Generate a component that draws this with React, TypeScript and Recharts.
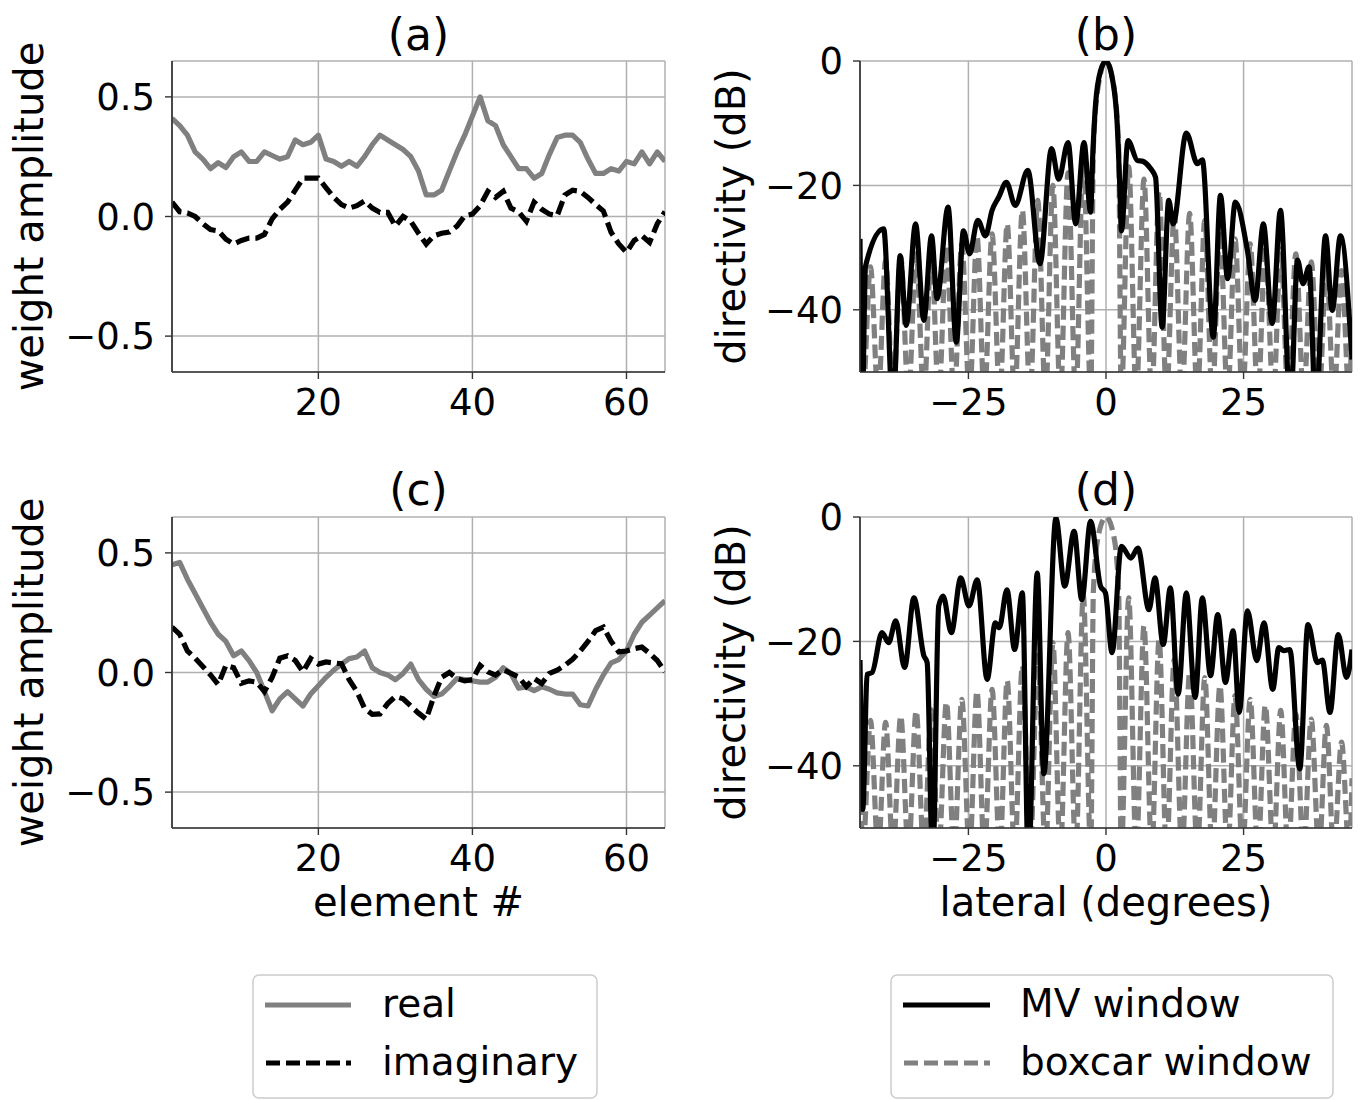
import React from 'react';
import { LineChart, Line, XAxis, YAxis, CartesianGrid } from 'recharts';

const FONT = '"DejaVu Sans", Verdana, sans-serif';
const INK = '#000';
const GRAY = '#808080';
const GRID = '#b0b0b0';
const SPINE = '#333333';

// array element number (x of panels a and c)
const ELEMENTS = Array.from({ length: 65 }, (_, i) => i + 1);

const REAL_A = [
  0.41, 0.38, 0.34, 0.27, 0.24, 0.2, 0.225, 0.205, 0.25, 0.27,
  0.23, 0.23, 0.27, 0.255, 0.24, 0.25, 0.32, 0.3, 0.31, 0.34,
  0.24, 0.23, 0.21, 0.23, 0.21, 0.25, 0.3, 0.34, 0.32, 0.3,
  0.28, 0.25, 0.19, 0.09, 0.09, 0.11, 0.19, 0.27, 0.34, 0.42,
  0.5, 0.4, 0.38, 0.3, 0.25, 0.2, 0.2, 0.16, 0.18, 0.26,
  0.33, 0.34, 0.34, 0.31, 0.24, 0.18, 0.18, 0.2, 0.19, 0.23,
  0.22, 0.27, 0.22, 0.27, 0.23,
];
const IMAG_A = [
  0.06, 0.02, 0.015, 0.0, -0.03, -0.055, -0.06, -0.095, -0.115, -0.1,
  -0.09, -0.09, -0.075, -0.01, 0.03, 0.06, 0.11, 0.16, 0.16, 0.16,
  0.12, 0.08, 0.05, 0.035, 0.045, 0.065, 0.035, 0.017, 0.017, -0.04,
  0.0, -0.02, -0.07, -0.115, -0.08, -0.07, -0.065, -0.04, 0.003, 0.01,
  0.045, 0.105, 0.08, 0.105, 0.035, 0.02, -0.02, 0.06, 0.03, 0.01,
  0.003, 0.09, 0.11, 0.105, 0.08, 0.05, 0.023, -0.066, -0.115, -0.15,
  -0.1, -0.08, -0.108, -0.03, 0.02,
];
const REAL_C = [
  0.45, 0.46, 0.39, 0.33, 0.27, 0.21, 0.16, 0.13, 0.07, 0.09,
  0.05, 0.0, -0.08, -0.16, -0.11, -0.08, -0.11, -0.14, -0.09, -0.055,
  -0.02, 0.01, 0.035, 0.058, 0.065, 0.09, 0.02, 0.0, -0.01, -0.03,
  -0.004, 0.035, -0.03, -0.07, -0.1, -0.09, -0.06, -0.025, -0.03, -0.035,
  -0.04, -0.04, -0.02, 0.02, -0.004, -0.066, -0.06, -0.076, -0.06, -0.07,
  -0.085, -0.09, -0.09, -0.135, -0.14, -0.07, -0.01, 0.04, 0.054, 0.09,
  0.16, 0.21, 0.24, 0.27, 0.3,
];
const IMAG_C = [
  0.19, 0.16, 0.09, 0.06, 0.025, -0.01, -0.05, 0.03, 0.02, -0.045,
  -0.035, -0.04, -0.08, -0.02, 0.06, 0.07, 0.05, 0.003, 0.058, 0.035,
  0.044, 0.04, 0.037, -0.03, -0.08, -0.15, -0.175, -0.173, -0.13, -0.1,
  -0.11, -0.14, -0.17, -0.195, -0.1, -0.02, 0.0, -0.025, -0.035, -0.03,
  0.03, 0.003, -0.011, 0.012, -0.004, -0.018, -0.059, -0.025, -0.046, -0.004,
  0.01, 0.03, 0.055, 0.09, 0.13, 0.175, 0.19, 0.13, 0.086, 0.09,
  0.1, 0.106, 0.08, 0.05, 0.003,
];

// MV window directivity, panel b
const MV_B_DEG = [
  -44.7, -44.3, -43.7, -40.4, -38.7, -37.4, -36.3, -34.6, -33.1, -31.7,
  -30.7, -28.7, -27.2, -25.9, -24.8, -23.3, -21.9, -20.7, -19.5, -18.1,
  -16.5, -14.2, -12.0, -9.9, -8.6, -6.9, -5.5, -4.0, -2.8, -2.4,
  -1.9, -1.0, 0.0, 1.1, 2.0, 2.5, 2.8, 4.0, 5.7, 6.6,
  8.1, 9.0, 10.2, 11.4, 12.2, 14.6, 16.6, 17.5, 19.5, 20.8,
  22.1, 23.5, 25.7, 27.1, 28.6, 30.2, 31.7, 33.5, 34.8, 35.8,
  36.9, 38.1, 39.9, 41.1, 42.6, 44.7,
];
const MV_B_DB = [
  -28.6, -56, -33, -27.0, -56, -31.3, -42.5, -26.2, -41.7, -28.1,
  -38.2, -23.5, -45.2, -27.3, -31.0, -25.6, -28.1, -24.0, -21.9, -19.5,
  -23.2, -17.6, -32.6, -14.1, -19.0, -13.1, -26.2, -13.1, -24.3, -15,
  -7, -1.6, 0, -2.6, -9.6, -20, -27.3, -12.8, -16.0, -16.1,
  -17.3, -18.7, -42.8, -22.4, -26.2, -11.6, -16.5, -15.9, -44.4, -21.6,
  -35.0, -22.7, -30.5, -38.5, -26.2, -42.2, -24.0, -56, -32.0, -35.8,
  -33.1, -56, -28.1, -40.1, -28.1, -48,
];

// MV window directivity, panel d
const MV_D_DEG = [
  -44.7, -44.2, -43.4, -42.5, -40.7, -39.5, -38.2, -36.6, -34.9, -33.1,
  -32.5, -31.5, -30.4, -29.6, -28.1, -26.4, -24.9, -23.4, -21.6, -20.1,
  -19.4, -18.0, -16.6, -15.2, -14.1, -12.5, -11.3, -9.1, -7.5, -5.8,
  -4.4, -2.8, -1.0, -0.1, 1.1, 2.8, 4.5, 5.8, 7.8, 8.9,
  10.4, 11.7, 13.1, 14.6, 16.2, 17.5, 19.0, 20.3, 21.7, 23.1,
  24.2, 25.7, 27.4, 28.7, 30.3, 31.4, 32.3, 33.4, 35.2, 36.7,
  38.4, 39.3, 40.7, 42.2, 43.7, 44.7,
];
const MV_D_DB = [
  -23, -47, -25.3, -25, -18.6, -20.2, -16.7, -24.2, -13.0, -22.3,
  -23.4, -56, -14.3, -12.7, -18.6, -9.8, -14.3, -10.1, -26.1, -17.0,
  -17.8, -11.7, -21.3, -12.2, -56, -9.0, -41.3, -0.2, -11.1, -2.3,
  -13.3, -0.7, -11.1, -12.2, -21.8, -4.7, -6.6, -5.0, -14.9, -9.8,
  -20.5, -11.4, -28.5, -12.2, -29.0, -13.0, -25.5, -15.7, -26.6, -18.3,
  -31.4, -15.1, -23.1, -17.0, -27.7, -21.0, -21.5, -21.3, -40.5, -17.3,
  -23.4, -23.0, -31.4, -18.9, -25.8, -21.3,
];

// boxcar window: lobe tops (incl. main lobe flanks) and null positions
const BOX_PEAK_DEG = [
  -44.7, -42.8, -40.05, -37.3, -34.5, -31.75, -29.0, -26.2, -23.45, -20.7,
  -17.95, -15.2, -12.4, -9.65, -6.9, -4.13, -2.3, -1.4, 0, 1.4,
  2.3, 4.13, 6.9, 9.65, 12.4, 15.2, 17.95, 20.7, 23.45, 26.2,
  28.95, 31.75, 34.5, 37.3, 40.05, 42.8, 44.7,
];
const BOX_B_DB = [
  -36, -33.1, -32.1, -31.5, -31.0, -30.5, -29.7, -29.4, -28.1, -27.8,
  -26.2, -24.0, -22.4, -20.0, -18.0, -15.0, -14, -4, 0, -4,
  -14, -17.0, -19.0, -21.0, -24.5, -24.5, -25.6, -27.3, -28.6, -29.4,
  -29.9, -30.2, -31.0, -32.3, -33.1, -33.7, -40,
];
const BOX_D_DB = [
  -36, -32.7, -33.0, -32.0, -31.2, -31.0, -29.8, -29.3, -28.0, -27.7,
  -26.3, -23.9, -22.3, -20.2, -18.6, -12.5, -12, -3, 0, -3,
  -12, -13.0, -17.5, -19.7, -22.9, -25.0, -25.8, -27.1, -28.7, -29.3,
  -30.3, -31.1, -31.7, -32.5, -33.5, -36.2, -42,
];
const BOX_NULL_DEG = [
  -44.2, -41.4, -38.7, -35.9, -33.1, -30.4, -27.6, -24.8, -22.1, -19.3,
  -16.6, -13.8, -11.0, -8.3, -5.5, -2.76, 2.76, 5.5, 8.3, 11.0,
  13.8, 16.6, 19.3, 22.1, 24.8, 27.6, 30.4, 33.1, 35.9, 38.7,
  41.4, 44.2,
];
const NULL_DB = -54; // nulls drop below the -50 dB floor

const WEIGHT_TICKS = [-0.5, 0, 0.5];
const ELEMENT_TICKS = [20, 40, 60];
const DB_TICKS = [-40, -20, 0];
const DEG_TICKS = [-25, 0, 25];

const minus = (s: string) => s.replace('-', '\u2212');
const fmtWeight = (v: number) => minus(v.toFixed(1));
const fmtInt = (v: number) => minus(String(v));

const pattern = (deg: number[], db: number[]) => deg.map((d, i) => ({ deg: d, db: db[i] }));
const boxcar = (db: number[]) =>
  [...BOX_NULL_DEG.map(d => ({ deg: d, db: NULL_DB })), ...pattern(BOX_PEAK_DEG, db)].sort(
    (p, q) => p.deg - q.deg,
  );

const LW = 5.2;
const DASH = '14 6';
const tickStyle = { fontSize: 37, fill: INK, fontFamily: FONT };
const spine = { stroke: SPINE, strokeWidth: 1.7 };
const tickLine = { stroke: SPINE, strokeWidth: 1.4 };

function WeightPanel({ top, re, im }: { top: number; re: number[]; im: number[] }) {
  const data = ELEMENTS.map((n, i) => ({ n, re: re[i], im: im[i] }));
  return (
    <div style={{ position: 'absolute', left: 0, top }}>
      <LineChart width={700} height={440} data={data} margin={{ top: 61, right: 35, bottom: 0, left: 0 }}>
        <CartesianGrid stroke={GRID} strokeWidth={1.5} />
        <XAxis
          dataKey="n"
          type="number"
          domain={[1, 65]}
          ticks={ELEMENT_TICKS}
          interval={0}
          allowDataOverflow
          height={68}
          tick={tickStyle}
          tickSize={7}
          tickMargin={10}
          tickLine={tickLine}
          axisLine={spine}
        />
        <YAxis
          type="number"
          domain={[-0.65, 0.65]}
          ticks={WEIGHT_TICKS}
          interval={0}
          allowDataOverflow
          width={172}
          tickFormatter={fmtWeight}
          tick={tickStyle}
          tickSize={7}
          tickMargin={10}
          tickLine={tickLine}
          axisLine={spine}
        />
        <XAxis xAxisId="top" orientation="top" type="number" domain={[1, 65]} height={0} tick={false} tickLine={false} axisLine={spine} />
        <YAxis yAxisId="right" orientation="right" width={0} tick={false} tickLine={false} axisLine={spine} />
        <Line type="linear" dataKey="re" stroke={GRAY} strokeWidth={LW} strokeLinejoin="round" dot={false} activeDot={false} isAnimationActive={false} />
        <Line type="linear" dataKey="im" stroke="#000" strokeWidth={LW} strokeDasharray={DASH} dot={false} activeDot={false} isAnimationActive={false} />
      </LineChart>
    </div>
  );
}

function PatternPanel({ top, mv, box }: { top: number; mv: { deg: number; db: number }[]; box: { deg: number; db: number }[] }) {
  return (
    <div style={{ position: 'absolute', left: 700, top }}>
      <LineChart width={665} height={440} margin={{ top: 61, right: 13, bottom: 0, left: 0 }}>
        <CartesianGrid stroke={GRID} strokeWidth={1.5} />
        <XAxis
          dataKey="deg"
          type="number"
          domain={[-44.7, 44.7]}
          ticks={DEG_TICKS}
          interval={0}
          allowDataOverflow
          height={68}
          tickFormatter={fmtInt}
          tick={tickStyle}
          tickSize={7}
          tickMargin={10}
          tickLine={tickLine}
          axisLine={spine}
        />
        <YAxis
          type="number"
          domain={[-50, 0]}
          ticks={DB_TICKS}
          interval={0}
          allowDataOverflow
          width={160}
          tickFormatter={fmtInt}
          tick={tickStyle}
          tickSize={7}
          tickMargin={10}
          tickLine={tickLine}
          axisLine={spine}
        />
        <XAxis xAxisId="top" orientation="top" type="number" domain={[-44.7, 44.7]} height={0} tick={false} tickLine={false} axisLine={spine} />
        <YAxis yAxisId="right" orientation="right" width={0} tick={false} tickLine={false} axisLine={spine} />
        <Line data={box} type="monotone" dataKey="db" stroke={GRAY} strokeWidth={LW} strokeDasharray={DASH} dot={false} activeDot={false} isAnimationActive={false} />
        <Line data={mv} type="monotone" dataKey="db" stroke="#000" strokeWidth={LW} strokeLinejoin="round" dot={false} activeDot={false} isAnimationActive={false} />
      </LineChart>
    </div>
  );
}

function Overlay() {
  return (
    <svg
      width={1365}
      height={1100}
      style={{ position: 'absolute', left: 0, top: 0, pointerEvents: 'none' }}
      fontFamily={FONT}
      fill={INK}
    >
      <text x={418.5} y={50} fontSize={44} textAnchor="middle">(a)</text>
      <text x={1106} y={50} fontSize={44} textAnchor="middle">(b)</text>
      <text x={418.5} y={505} fontSize={44} textAnchor="middle">(c)</text>
      <text x={1106} y={505} fontSize={44} textAnchor="middle">(d)</text>

      <text transform="translate(43,216.5) rotate(-90)" fontSize={40} textAnchor="middle">weight amplitude</text>
      <text transform="translate(43,672.5) rotate(-90)" fontSize={40} textAnchor="middle">weight amplitude</text>
      <text transform="translate(745,216.5) rotate(-90)" fontSize={40} textAnchor="middle">directivity (dB)</text>
      <text transform="translate(745,672.5) rotate(-90)" fontSize={40} textAnchor="middle">directivity (dB)</text>

      <text x={418.5} y={916} fontSize={40} textAnchor="middle">element #</text>
      <text x={1106} y={916} fontSize={40} textAnchor="middle">lateral (degrees)</text>

      <rect x={253} y={975} width={344} height={123} rx={6} fill="#fff" stroke="#cccccc" strokeWidth={1.5} />
      <line x1={265} y1={1005} x2={351} y2={1005} stroke={GRAY} strokeWidth={LW} />
      <line x1={266} y1={1063} x2={351} y2={1063} stroke="#000" strokeWidth={LW} strokeDasharray={DASH} />
      <text x={382} y={1017} fontSize={39}>real</text>
      <text x={382} y={1075} fontSize={39}>imaginary</text>

      <rect x={891} y={975} width={442} height={123} rx={6} fill="#fff" stroke="#cccccc" strokeWidth={1.5} />
      <line x1={903} y1={1005} x2={990} y2={1005} stroke="#000" strokeWidth={LW} />
      <line x1={904} y1={1063} x2={990} y2={1063} stroke={GRAY} strokeWidth={LW} strokeDasharray={DASH} />
      <text x={1020} y={1017} fontSize={39}>MV window</text>
      <text x={1020} y={1075} fontSize={39}>boxcar window</text>
    </svg>
  );
}

export default function App() {
  return (
    <div style={{ position: 'absolute', left: 0, top: 0, width: 1365, height: 1100, background: '#fff' }}>
      <WeightPanel top={0} re={REAL_A} im={IMAG_A} />
      <PatternPanel top={0} mv={pattern(MV_B_DEG, MV_B_DB)} box={boxcar(BOX_B_DB)} />
      <WeightPanel top={456} re={REAL_C} im={IMAG_C} />
      <PatternPanel top={456} mv={pattern(MV_D_DEG, MV_D_DB)} box={boxcar(BOX_D_DB)} />
      <Overlay />
    </div>
  );
}
